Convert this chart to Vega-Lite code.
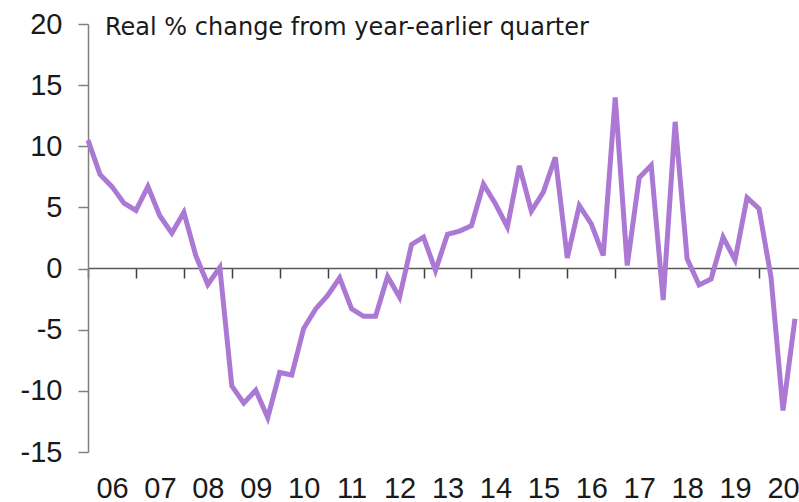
{
  "$schema": "https://vega.github.io/schema/vega-lite/v6.json",
  "width": 711,
  "height": 428,
  "autosize": {"type": "none"},
  "padding": {"left": 88, "top": 24, "right": 0, "bottom": 50},
  "background": "white",
  "title": {
    "text": "Real % change from year-earlier quarter",
    "anchor": "start",
    "frame": "group",
    "orient": "top",
    "baseline": "alphabetic",
    "offset": -13,
    "dx": 17,
    "dy": 36,
    "font": "DejaVu Sans",
    "fontSize": 24,
    "fontWeight": "normal",
    "color": "#1a1a1a"
  },
  "data": {
    "values": [
      {"t": 2006.00, "v": 10.5},
      {"t": 2006.25, "v": 7.7},
      {"t": 2006.50, "v": 6.7},
      {"t": 2006.75, "v": 5.35},
      {"t": 2007.00, "v": 4.75},
      {"t": 2007.25, "v": 6.7},
      {"t": 2007.50, "v": 4.3},
      {"t": 2007.75, "v": 2.9},
      {"t": 2008.00, "v": 4.6},
      {"t": 2008.25, "v": 1.05},
      {"t": 2008.50, "v": -1.3},
      {"t": 2008.75, "v": 0.1},
      {"t": 2009.00, "v": -9.6},
      {"t": 2009.25, "v": -11.0},
      {"t": 2009.50, "v": -9.95},
      {"t": 2009.75, "v": -12.2},
      {"t": 2010.00, "v": -8.5},
      {"t": 2010.25, "v": -8.7},
      {"t": 2010.50, "v": -4.9},
      {"t": 2010.75, "v": -3.3},
      {"t": 2011.00, "v": -2.2},
      {"t": 2011.25, "v": -0.76},
      {"t": 2011.50, "v": -3.3},
      {"t": 2011.75, "v": -3.9},
      {"t": 2012.00, "v": -3.9},
      {"t": 2012.25, "v": -0.65},
      {"t": 2012.50, "v": -2.35},
      {"t": 2012.75, "v": 1.97},
      {"t": 2013.00, "v": 2.57},
      {"t": 2013.25, "v": -0.16},
      {"t": 2013.50, "v": 2.8},
      {"t": 2013.75, "v": 3.06},
      {"t": 2014.00, "v": 3.5},
      {"t": 2014.25, "v": 6.9},
      {"t": 2014.50, "v": 5.3},
      {"t": 2014.75, "v": 3.4},
      {"t": 2015.00, "v": 8.4},
      {"t": 2015.25, "v": 4.7},
      {"t": 2015.50, "v": 6.25},
      {"t": 2015.75, "v": 9.1},
      {"t": 2016.00, "v": 0.87},
      {"t": 2016.25, "v": 5.16},
      {"t": 2016.50, "v": 3.66},
      {"t": 2016.75, "v": 1.07},
      {"t": 2017.00, "v": 14.0},
      {"t": 2017.25, "v": 0.25},
      {"t": 2017.50, "v": 7.43},
      {"t": 2017.75, "v": 8.44},
      {"t": 2018.00, "v": -2.57},
      {"t": 2018.25, "v": 12.0},
      {"t": 2018.50, "v": 0.8},
      {"t": 2018.75, "v": -1.34},
      {"t": 2019.00, "v": -0.85},
      {"t": 2019.25, "v": 2.57},
      {"t": 2019.50, "v": 0.71},
      {"t": 2019.75, "v": 5.8},
      {"t": 2020.00, "v": 4.9},
      {"t": 2020.25, "v": -0.7},
      {"t": 2020.50, "v": -11.6},
      {"t": 2020.75, "v": -4.1}
    ]
  },
  "mark": {"type": "line", "color": "#ab78d4", "strokeWidth": 5, "strokeJoin": "miter", "clip": false},
  "encoding": {
    "x": {
      "field": "t",
      "type": "quantitative",
      "scale": {"domain": [2006, 2020.834], "nice": false, "zero": false},
      "axis": {
        "orient": "bottom",
        "offset": -184,
        "values": [2006, 2007, 2008, 2009, 2010, 2011, 2012, 2013, 2014, 2015, 2016, 2017, 2018, 2019, 2020],
        "labelExpr": "slice(toString(datum.value), 2)",
        "labelOffset": 24,
        "labelPadding": 196,
        "labelFont": "Liberation Sans",
        "labelFontSize": 29,
        "labelColor": "#1a1a1a",
        "labelOverlap": false,
        "labelFlush": false,
        "labelBound": false,
        "domainColor": "#595959",
        "domainWidth": 1.5,
        "tickColor": "#404040",
        "tickWidth": 1.5,
        "tickSize": 10,
        "grid": false,
        "title": null
      }
    },
    "y": {
      "field": "v",
      "type": "quantitative",
      "scale": {"domain": [-15, 20], "nice": false, "zero": false},
      "axis": {
        "values": [-15, -10, -5, 0, 5, 10, 15, 20],
        "labelExpr": "toString(datum.value)",
        "labelPadding": 16,
        "labelFont": "Liberation Sans",
        "labelFontSize": 29,
        "labelColor": "#1a1a1a",
        "labelFlush": false,
        "labelOverlap": false,
        "domainColor": "#808080",
        "domainWidth": 1.5,
        "tickColor": "#808080",
        "tickWidth": 1.5,
        "tickSize": 10,
        "grid": false,
        "title": null
      }
    }
  },
  "config": {"view": {"stroke": null}}
}
